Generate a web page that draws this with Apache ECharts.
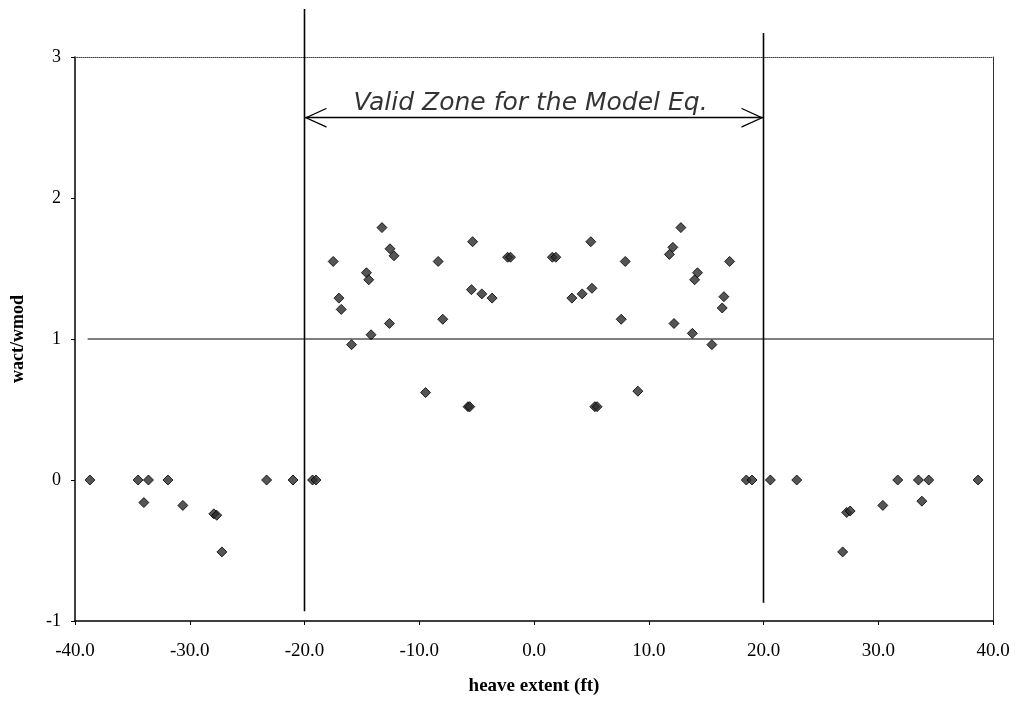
<!DOCTYPE html>
<html>
<head>
<meta charset="utf-8">
<script src="https://cdn.jsdelivr.net/npm/echarts@6/dist/echarts.min.js"></script>
<style>html,body{margin:0;padding:0;background:#fff;}#c{width:1018px;height:701px;}</style>
</head>
<body>
<div id="c"></div>
<script>
// heave extent (ft)
const xVals = [-38.7,-34.5,-33.6,-31.9,-34.0,-30.6,-27.9,-27.65,-27.2,-23.3,-21.0,-19.3,-19.0,
  -17.5,-17.0,-16.8,-15.9,-14.6,-14.4,-14.2,-13.25,-12.55,-12.2,-12.6,-9.45,-8.35,-7.95,-5.75,-5.6,-5.35,-5.45,-4.55,-3.65,-2.3,-2.05,
  1.6,1.9,3.3,4.2,5.05,4.95,5.3,5.5,7.6,7.95,9.05,11.8,12.1,12.2,12.8,13.8,14.0,14.25,15.5,16.4,16.55,17.05,
  18.5,19.0,20.6,22.9,26.9,27.25,27.55,30.4,31.7,33.5,33.8,34.4,38.7];
// wact/wmod
const yVals = [0,0,0,0,-0.16,-0.18,-0.24,-0.25,-0.51,0,0,0,0,
  1.55,1.29,1.21,0.96,1.47,1.42,1.03,1.79,1.64,1.59,1.11,0.62,1.55,1.14,0.52,0.52,1.69,1.35,1.32,1.29,1.58,1.58,
  1.58,1.58,1.29,1.32,1.36,1.69,0.52,0.52,1.14,1.55,0.63,1.6,1.65,1.11,1.79,1.04,1.42,1.47,0.96,1.22,1.30,1.55,
  0,0,0,0,-0.51,-0.23,-0.22,-0.18,0,0,-0.15,0,0];

const zoneBounds = [-20, 20];
const leftLineY = [-0.93, 3.34];
const rightLineY = [-0.87, 3.17];
const refLineY = 1;
const refLineX = [-38.9, 40];
const arrowY = 2.57;
const annotation = { text: 'Valid Zone for the Model Eq.', x: -0.3, y: 2.67 };

const points = xVals.map((x, i) => [x, yVals[i]]);
const serif = 'Liberation Serif';
// open chevron with its tip at the symbol centre
const chevron = 'path://M0,0 L10,22 L8.6,22 L0,3 L-8.6,22 L-10,22 Z M0,-22 L0.01,-22 L0,-22 Z';

const chart = echarts.init(document.getElementById('c'));
chart.setOption({
  animation: false,
  backgroundColor: '#fff',
  grid: { left: 75, right: 25, top: 57, bottom: 78 },
  xAxis: [{
    type: 'value', min: -40, max: 40, interval: 10,
    name: 'heave extent (ft)', nameLocation: 'middle', nameGap: 56,
    nameTextStyle: { fontFamily: serif, fontWeight: 'bold', fontSize: 19, color: '#000' },
    axisLine: { onZero: false, lineStyle: { color: '#000', width: 1.5 } },
    axisTick: { show: true, length: 4, lineStyle: { color: '#000' } },
    axisLabel: { fontFamily: serif, fontSize: 19, color: '#000', margin: 21, formatter: v => v.toFixed(1) },
    splitLine: { show: false }
  }, {
    type: 'value', min: -40, max: 40, position: 'top',
    axisLine: { show: true, onZero: false, lineStyle: { color: '#444', type: 'dotted', width: 1 } },
    axisTick: { show: false }, axisLabel: { show: false }, splitLine: { show: false }
  }],
  yAxis: [{
    type: 'value', min: -1, max: 3, interval: 1,
    name: 'wact/wmod', nameLocation: 'middle', nameGap: 48,
    nameTextStyle: { fontFamily: serif, fontWeight: 'bold', fontSize: 18, color: '#000' },
    axisLine: { onZero: false, lineStyle: { color: '#000', width: 1.5 } },
    axisTick: { show: true, length: 4, lineStyle: { color: '#000' } },
    axisLabel: { fontFamily: serif, fontSize: 18, color: '#000', margin: 14 },
    splitLine: { show: false }
  }, {
    type: 'value', min: -1, max: 3, position: 'right',
    axisLine: { show: true, onZero: false, lineStyle: { color: '#333', width: 1 } },
    axisTick: { show: false }, axisLabel: { show: false }, splitLine: { show: false }
  }],
  series: [
    {
      type: 'line', clip: false, symbol: 'none', silent: true,
      data: [[zoneBounds[0], leftLineY[0]], [zoneBounds[0], leftLineY[1]]],
      lineStyle: { color: '#000', width: 1.6 }
    },
    {
      type: 'line', clip: false, symbol: 'none', silent: true,
      data: [[zoneBounds[1], rightLineY[0]], [zoneBounds[1], rightLineY[1]]],
      lineStyle: { color: '#000', width: 1.6 }
    },
    {
      type: 'line', clip: false, symbol: 'none', silent: true,
      data: [[refLineX[0], refLineY], [refLineX[1], refLineY]],
      lineStyle: { color: '#000', width: 1.2 }
    },
    {
      type: 'line', clip: false, silent: true, symbol: 'none',
      data: [],
      markLine: {
        silent: true, symbol: [chevron, chevron], symbolSize: [20, 44],
        lineStyle: { color: '#000', width: 1.3, type: 'solid' },
        label: { show: false },
        data: [[{ coord: [zoneBounds[0], arrowY] }, { coord: [zoneBounds[1], arrowY] }]]
      }
    },
    {
      type: 'scatter', clip: false, silent: true, symbolSize: 0,
      data: [[annotation.x, annotation.y]],
      label: {
        show: true, position: 'inside', formatter: annotation.text,
        fontFamily: 'DejaVu Sans', fontStyle: 'italic', fontSize: 25, color: '#000'
      }
    },
    {
      type: 'scatter', symbol: 'diamond', symbolSize: 10,
      data: points,
      itemStyle: { color: '#2a2a2a', borderColor: '#000', borderWidth: 1 }
    }
  ]
});
</script>
</body>
</html>
